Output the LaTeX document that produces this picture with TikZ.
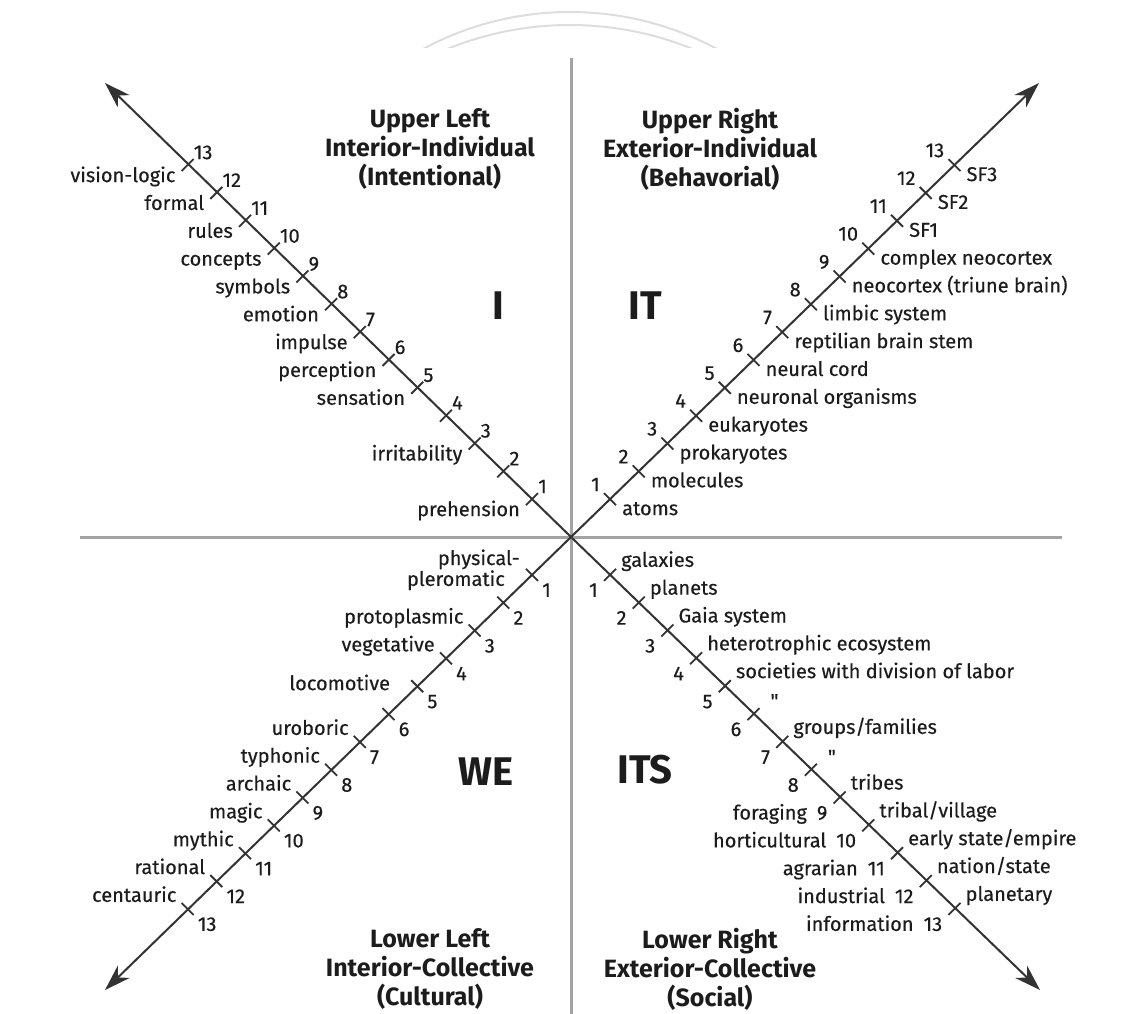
\documentclass[tikz,border=0pt]{standalone}
\usepackage{fontspec}
\setmainfont{Fira Sans}
\newfontfamily\labfont{Fira Sans}[FakeBold=0.35]
\usetikzlibrary{arrows.meta}
\definecolor{ink}{HTML}{1C1C1C}
\definecolor{diagc}{HTML}{333333}
\definecolor{axisc}{HTML}{A3A3A3}
\definecolor{arcc}{HTML}{DDDDDD}
\begin{document}
\begin{tikzpicture}[x=1pt,y=-1pt,
  lab/.style={font=\labfont\fontsize{20}{21}\selectfont,text=ink,inner sep=0pt},
  num/.style={lab},
  head/.style={font=\bfseries\fontsize{25}{29}\selectfont,text=ink,align=center,inner sep=0pt},
  quad/.style={font=\bfseries\fontsize{40}{40}\selectfont,text=ink,inner sep=0pt},
  axisline/.style={draw=axisc,line width=3pt},
  diagline/.style={draw=diagc,line width=2pt,-{Stealth[length=26pt,width=17pt,inset=8pt]}},
  tickmark/.style={draw=diagc,line width=1.8pt},
  arcline/.style={draw=arcc,line width=2pt}]
\useasboundingbox (0,0) rectangle (1136,1014);
% faint arcs at the top
\begin{scope}
  \clip (0,0) rectangle (1136,48);
  \draw[arcline] (570,322) circle[radius=310pt];
  \draw[arcline] (570,350) circle[radius=325pt];
\end{scope}
% axes
\coordinate (c) at (571,537);
\coordinate (vt) at (571,58);
\coordinate (vb) at (571,1014);
\coordinate (hl) at (80,537);
\coordinate (hr) at (1062,537);
\draw[axisline] (vt) -- (vb);
\draw[axisline] (hl) -- (hr);
% diagonals
\coordinate (tUL) at (105,83);
\coordinate (tUR) at (1039,83);
\coordinate (tLL) at (105,990);
\coordinate (tLR) at (1040,990);
\foreach \t in {tUL,tUR,tLL,tLR} \draw[diagline] (c) -- (\t);
% ticks
\foreach \k in {1,...,13}{
  \pgfmathsetmacro\dx{10.3+28.7*\k}
  \pgfmathsetmacro\dy{0.97*\dx}
  \coordinate (ul\k) at (571-\dx,537-\dy);
  \coordinate (ur\k) at (571+\dx,537-\dy);
  \coordinate (ll\k) at (571-\dx,537+\dy);
  \coordinate (lr\k) at (571+\dx,537+\dy);
  \draw[tickmark] (ul\k) ++(-6,6) -- ++(12,-12);
  \draw[tickmark] (lr\k) ++(-6,6) -- ++(12,-12);
  \draw[tickmark] (ur\k) ++(-6,-6) -- ++(12,12);
  \draw[tickmark] (ll\k) ++(-6,-6) -- ++(12,12);
}
% numbers
\foreach \k in {1,...,13}{
  \node[num,anchor=base west] (nul\k) at ([shift={(6,-6)}]ul\k) {\k};
  \node[num,anchor=base east] (nur\k) at ([shift={(-10,-8)}]ur\k) {\k};
  \node[num,anchor=base west] (nll\k) at ([shift={(10,22)}]ll\k) {\k};
}
\foreach \k in {1,...,8}
  \node[num,anchor=base east] (nlr\k) at ([shift={(-12,22)}]lr\k) {\k};
\foreach \k/\p in {9/foraging,10/horticultural,11/agrarian,12/industrial,13/information}
  \node[num,anchor=base east] (nlr\k) at ([shift={(-12,22)}]lr\k) {\p\hspace{10pt}\k};
% words upper left
\foreach \k/\w in {1/prehension,3/irritability,5/sensation,6/perception,7/impulse,8/emotion,9/symbols,10/concepts,11/rules,12/formal,13/vision-logic}
  \node[lab,anchor=base east] (wul\k) at ([shift={(-12,17)}]ul\k) {\w};
% words upper right
\foreach \k/\w in {1/atoms,2/molecules,3/prokaryotes,4/eukaryotes,5/neuronal organisms,6/neural cord,7/reptilian brain stem,8/limbic system,9/neocortex (triune brain),10/complex neocortex,11/SF1,12/SF2,13/SF3}
  \node[lab,anchor=base west] (wur\k) at ([shift={(12,16)}]ur\k) {\w};
% words lower left
\node[lab,anchor=east,align=right,font=\labfont\fontsize{20}{18}\selectfont] (wll1) at ([shift={(-12,-5)}]ll1) {physical-\\pleromatic\hspace*{15pt}};
\node[lab,anchor=base east] (wll5) at ([shift={(-27,4)}]ll5) {locomotive};
\foreach \k/\w in {3/protoplasmic,4/vegetative,7/uroboric,8/typhonic,9/archaic,10/magic,11/mythic,12/rational,13/centauric}
  \node[lab,anchor=base east] (wll\k) at ([shift={(-11,-7)}]ll\k) {\w};
% words lower right
\foreach \k/\w in {1/galaxies,2/planets,3/Gaia system,4/heterotrophic ecosystem,5/societies with division of labor,7/{groups/families},9/tribes,10/{tribal/village},11/{early state/empire},12/{nation/state},13/planetary}
  \node[lab,anchor=base west] (wlr\k) at ([shift={(11,-8)}]lr\k) {\w};
\node[lab] (wlr6) at ([shift={(21,-13)}]lr6) {\symbol{34}};
\node[lab] (wlr8) at ([shift={(21,-13)}]lr8) {\symbol{34}};
% quadrant letters
\node[quad] (qI) at (498,306) {I};
\node[quad] (qIT) at (645,306) {IT};
\node[quad] (qWE) at (486,772) {WE};
\node[quad] (qITS) at (645,770) {ITS};
% headings
\node[head] (hUL) at (430,149) {Upper Left\\Interior-Individual\\(Intentional)};
\node[head] (hUR) at (710,149) {Upper Right\\Exterior-Individual\\(Behavorial)};
\node[head] (hLL) at (430,969) {Lower Left\\Interior-Collective\\(Cultural)};
\node[head] (hLR) at (710,969) {Lower Right\\Exterior-Collective\\(Social)};
\end{tikzpicture}
\end{document}
